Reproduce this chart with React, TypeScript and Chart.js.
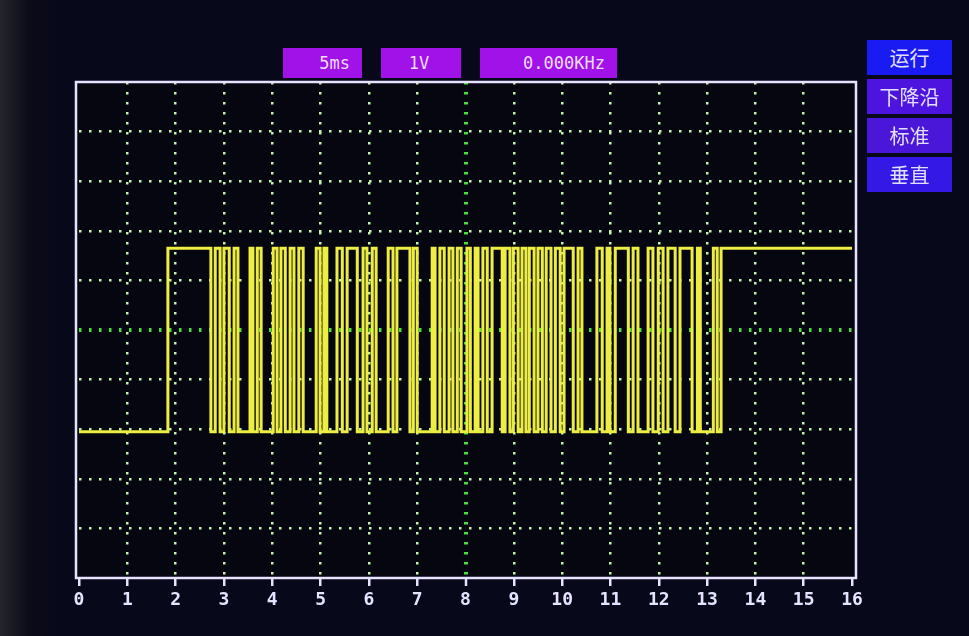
import React, { useEffect, useRef } from "react";
import { Chart, registerables } from "chart.js";

Chart.register(...registerables);

// ---- data ----
const xTickValues = [0, 1, 2, 3, 4, 5, 6, 7, 8, 9, 10, 11, 12, 13, 14, 15, 16];
const xMin = 0;
const xMax = 16;
const yMin = 0;
const yMax = 10;
const lowLevel = 2.95;
const highLevel = 6.65;
// time (divisions) of each edge of the signal, alternating rise / fall, starting with a rise
const edgeTimes = [
  1.84, 2.73, 2.82, 2.92, 3.0, 3.11, 3.21, 3.29, 3.54, 3.6, 3.69, 3.77, 4.02, 4.1, 4.18, 4.27,
  4.37, 4.45, 4.55, 4.64, 4.91, 4.99, 5.07, 5.13, 5.34, 5.45, 5.55, 5.76, 5.88, 5.96, 6.07,
  6.15, 6.4, 6.5, 6.58, 6.85, 6.92, 7.0, 7.31, 7.37, 7.47, 7.56, 7.66, 7.74, 7.83, 7.91, 8.03,
  8.1, 8.2, 8.26, 8.36, 8.45, 8.55, 8.76, 8.82, 8.92, 8.99, 9.09, 9.17, 9.25, 9.32, 9.42, 9.5,
  9.59, 9.67, 9.77, 9.86, 9.96, 10.04, 10.23, 10.33, 10.41, 10.72, 10.83, 10.93, 10.99, 11.1,
  11.37, 11.47, 11.57, 11.78, 11.88, 11.99, 12.09, 12.19, 12.34, 12.44, 12.69, 12.8, 12.86,
  13.13, 13.21, 13.29,
];
const topLabels = ["5ms", "1V", "0.000KHz"];
const sideButtons = ["运行", "下降沿", "标准", "垂直"];

function buildPoints() {
  const pts: { x: number; y: number }[] = [{ x: xMin, y: lowLevel }];
  let level = lowLevel;
  for (const t of edgeTimes) {
    level = level === lowLevel ? highLevel : lowLevel;
    pts.push({ x: t, y: level });
  }
  pts.push({ x: xMax, y: level });
  return pts;
}

const DOT = "#c4f3ae";
const CENTER = "#45e03c";
const FRAME = "#e6e2ff";

const framePlugin = {
  id: "scopeFrame",
  beforeDraw(chart: any) {
    const { ctx, chartArea } = chart;
    ctx.save();
    ctx.fillStyle = "#05060f";
    ctx.fillRect(chartArea.left - 3, chartArea.top, chartArea.right - chartArea.left + 7, chartArea.bottom - chartArea.top);
    ctx.restore();
  },
  beforeDatasetsDraw(chart: any) {
    const { ctx, chartArea } = chart;
    ctx.save();
    ctx.strokeStyle = FRAME;
    ctx.lineWidth = 2.5;
    ctx.strokeRect(chartArea.left - 3, chartArea.top, chartArea.right - chartArea.left + 7, chartArea.bottom - chartArea.top);
    ctx.restore();
  },
};

export default function App() {
  const canvasRef = useRef<HTMLCanvasElement | null>(null);

  useEffect(() => {
    document.body.style.margin = "0";
    document.body.style.background = "#07081a";
    const canvas = canvasRef.current;
    if (!canvas) return;
    const chart = new Chart(canvas, {
      type: "line",
      data: {
        datasets: [
          {
            data: buildPoints(),
            stepped: "before",
            borderColor: "#eeee42",
            borderWidth: 3,
            pointRadius: 0,
            fill: false,
          },
        ],
      },
      options: {
        animation: false,
        responsive: false,
        devicePixelRatio: 1,
        layout: { padding: { left: 79, right: 117, top: 82, bottom: 18 } },
        plugins: { legend: { display: false }, tooltip: { enabled: false }, title: { display: false } },
        scales: {
          x: {
            type: "linear",
            min: xMin,
            max: xMax,
            afterBuildTicks: (s: any) => {
              s.ticks = xTickValues.map((v) => ({ value: v }));
            },
            afterFit: (s: any) => {
              s.height = 40;
            },
            ticks: {
              color: FRAME,
              font: { family: "DejaVu Sans Mono", size: 18, weight: "bold" },
              padding: 4,
              autoSkip: false,
              maxRotation: 0,
              callback: (v: any) => String(v),
            },
            grid: {
              color: (c: any) => {
                const v = c.tick ? c.tick.value : 0;
                if (v === xMin || v === xMax) return "rgba(0,0,0,0)";
                return v === 8 ? CENTER : DOT;
              },
              lineWidth: (c: any) => (c.tick && c.tick.value === 8 ? 4 : 2.5),
              drawTicks: true,
              tickLength: 8,
              tickColor: FRAME,
              tickWidth: 2.5,
            },
            border: { display: false, dash: [2.5, 7.5] },
          },
          y: {
            type: "linear",
            min: yMin,
            max: yMax,
            afterFit: (s: any) => {
              s.width = 0;
            },
            ticks: { display: false, stepSize: 1 },
            grid: {
              color: (c: any) => {
                const v = c.tick ? c.tick.value : 0;
                if (v === yMin || v === yMax) return "rgba(0,0,0,0)";
                return v === 5 ? CENTER : DOT;
              },
              lineWidth: (c: any) => (c.tick && c.tick.value === 5 ? 4 : 2.5),
              drawTicks: false,
            },
            border: { display: false, dash: [2.5, 7.5] },
          },
        },
      },
      plugins: [framePlugin],
    } as any);
    return () => chart.destroy();
  }, []);

  const labelBoxes = [
    { left: 283, width: 79, justify: "flex-end", pr: 12 },
    { left: 381, width: 80, justify: "center", pr: 4 },
    { left: 480, width: 137, justify: "flex-end", pr: 12 },
  ];
  const buttonColors = ["#1a1af2", "#4c14de", "#4a16d8", "#3418e6"];

  return (
    <div
      style={{
        position: "fixed",
        left: 0,
        top: 0,
        width: 969,
        height: 636,
        overflow: "hidden",
        background: "linear-gradient(90deg, #24242c 0px, #0c0c18 28px, #07081a 60px)",
      }}
    >
      <canvas ref={canvasRef} width={969} height={636} style={{ position: "absolute", left: 0, top: 0, width: 969, height: 636 }} />
      {topLabels.map((t, i) => (
        <div
          key={t}
          style={{
            position: "absolute",
            left: labelBoxes[i].left,
            top: 48,
            width: labelBoxes[i].width,
            height: 30,
            background: "#a012e8",
            display: "flex",
            alignItems: "center",
            justifyContent: labelBoxes[i].justify,
            paddingRight: labelBoxes[i].pr,
            boxSizing: "border-box",
            color: "#efdcff",
            fontFamily: "DejaVu Sans Mono",
            fontSize: 17,
          }}
        >
          {t}
        </div>
      ))}
      {sideButtons.map((t, i) => (
        <div
          key={t}
          style={{
            position: "absolute",
            left: 867,
            top: 40 + i * 39,
            width: 85,
            height: 35,
            background: buttonColors[i],
            display: "flex",
            alignItems: "center",
            justifyContent: "center",
            color: "#e2e0ff",
            fontFamily: "'Noto Sans CJK SC'",
            fontSize: 20,
          }}
        >
          {t}
        </div>
      ))}
    </div>
  );
}
